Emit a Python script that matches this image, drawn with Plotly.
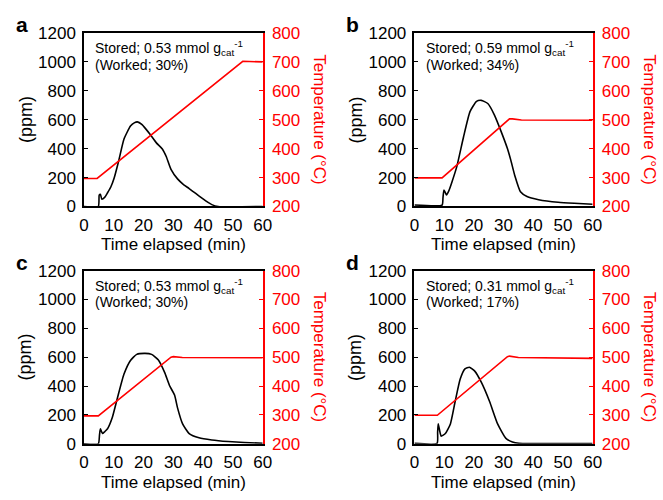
import plotly.graph_objects as go

# ---------------- data ----------------
panel_letters = ["a", "b", "c", "d"]
stored_labels = ["0.53", "0.59", "0.53", "0.31"]
worked_labels = ["30%", "34%", "30%", "17%"]

t_a = [0, 4.8, 5.1, 5.5, 6.0, 7.0, 7.9, 9.0, 10.1, 11.7, 13.4, 15.6, 17.0, 17.9, 19.4, 20.8, 22.1, 24.3, 26.3, 27.6, 29.2, 31.4, 33.5, 35.3, 37.5, 39.6, 41.5, 42.9, 45.0, 60]
ppm_a = [0, 0, 78, 85, 50, 65, 95, 135, 195, 320, 465, 556, 580, 585, 568, 535, 501, 440, 398, 346, 257, 191, 150, 124, 90, 58, 30, 13, 0, 0]
tT_a = [0, 4.4, 53.3, 60]
T_a = [297, 297, 702, 700]

t_b = [0, 9.3, 9.6, 9.9, 10.3, 10.8, 11.6, 12.6, 14.3, 16.5, 18.7, 20.9, 22.5, 24.7, 26.9, 29.1, 31.3, 32.4, 33.8, 35.7, 37.9, 41.8, 48.4, 53.8, 60]
ppm_b = [10, 10, 60, 113, 100, 80, 110, 168, 279, 479, 656, 727, 734, 712, 634, 523, 401, 324, 213, 102, 69, 47, 29, 22, 16]
tT_b = [0, 9.3, 32.0, 33.0, 36.0, 60]
T_b = [299, 299, 503, 503, 499, 498]

t_c = [0, 4.8, 5.2, 5.5, 6.2, 7.0, 7.9, 9.5, 11.2, 13.4, 15.6, 17.7, 20.5, 22.7, 24.9, 27.1, 28.7, 30.4, 31.4, 33.1, 35.3, 38.6, 42.9, 48.4, 53.8, 60]
ppm_c = [0, 0, 60, 104, 71, 85, 104, 182, 316, 482, 578, 620, 627, 620, 582, 493, 404, 338, 249, 138, 71, 42, 27, 16, 9, 4]
tT_c = [0, 4.8, 29.2, 30.0, 33.0, 60]
T_c = [297, 297, 500, 502, 499, 498]

t_d = [0, 7.6, 7.8, 8.0, 8.5, 9.0, 10.4, 12.1, 13.7, 15.4, 17.0, 18.5, 20.3, 22.5, 25.3, 28.0, 30.8, 33.0, 35.2, 60]
ppm_d = [3, 3, 80, 138, 90, 53, 71, 138, 293, 449, 520, 531, 504, 427, 293, 138, 38, 13, 4, 2]
tT_d = [0, 7.7, 31.3, 32.0, 35.0, 58, 60]
T_d = [299, 299, 502, 504, 499, 498, 496]

times = [t_a, t_b, t_c, t_d]
ppms = [ppm_a, ppm_b, ppm_c, ppm_d]
ttimes = [tT_a, tT_b, tT_c, tT_d]
temps = [T_a, T_b, T_c, T_d]

# ---------------- layout geometry (pixels) ----------------
W, H = 663, 500
FONT = "Liberation Sans, Arial, sans-serif"
px_boxes = [  # left, right, top, bottom
    (80.7, 263.3, 24.9, 205.3),
    (418.3, 600.3, 24.9, 205.3),
    (80.7, 263.3, 272.0, 452.0),
    (418.3, 600.3, 272.0, 452.0),
]

def px(x):
    return x / W

def py(y):
    return 1 - y / H

fig = go.Figure()
layout = dict(
    width=W, height=H, margin=dict(l=0, r=0, t=0, b=0),
    paper_bgcolor="white", plot_bgcolor="white", showlegend=False,
    font=dict(family=FONT, size=17, color="black"),
)
annotations = []

for i in range(4):
    n = i + 1
    xs = "" if n == 1 else str(n)
    xname, yname, y2name, xtname = "x" + xs, "y" + xs, "y" + str(n + 4), "x" + str(n + 4)
    l, r, t, b = px_boxes[i]
    xdom = [px(l), px(r)]
    ydom = [py(b), py(t)]

    fig.add_trace(go.Scatter(x=times[i], y=ppms[i], mode="lines", xaxis=xname, yaxis=yname,
                             line=dict(color="black", width=1.6, shape="spline", smoothing=0.5)))
    fig.add_trace(go.Scatter(x=ttimes[i], y=temps[i], mode="lines", xaxis=xname, yaxis=y2name,
                             line=dict(color="#ff0000", width=1.6)))

    layout["xaxis" + xs] = dict(domain=xdom, anchor=yname, range=[0, 60], dtick=10, tick0=0,
                                ticks="", showline=True, linecolor="black", linewidth=1.5,
                                mirror=True, showgrid=False, zeroline=False,
                                tickfont=dict(size=17, color="black"), ticklabelstandoff=2)
    layout["xaxis" + str(n + 4)] = dict(domain=xdom, anchor=yname, overlaying=xname, range=[0, 60],
                                        tickvals=[20, 40], ticks="inside", ticklen=4, tickwidth=1.3,
                                        tickcolor="black", showticklabels=False, showline=False,
                                        showgrid=False, zeroline=False)
    layout["yaxis" + xs] = dict(domain=ydom, anchor=xname, range=[0, 1200], dtick=200, tick0=0,
                                ticks="inside", ticklen=4, tickwidth=1.3, tickcolor="black",
                                showline=True, linecolor="black", linewidth=1.5,
                                showgrid=False, zeroline=False, ticklabelstandoff=3,
                                tickfont=dict(size=17, color="black"))
    layout["yaxis" + str(n + 4)] = dict(domain=ydom, anchor=xname, overlaying=yname, side="right",
                                        range=[200, 800], dtick=100, tick0=200,
                                        ticks="inside", ticklen=4, tickwidth=1.3, tickcolor="#ff0000",
                                        showline=True, linecolor="#ff0000", linewidth=1.5,
                                        showgrid=False, zeroline=False, ticklabelstandoff=4,
                                        tickfont=dict(size=17, color="#ff0000"))

    cx = (l + r) / 2
    cy = (t + b) / 2
    # axis titles
    annotations.append(dict(text="Time elapsed (min)", x=px(cx), y=py(b + 40), xref="paper", yref="paper",
                            xanchor="center", yanchor="middle", showarrow=False,
                            font=dict(size=17, color="black")))
    annotations.append(dict(text="(ppm)", x=px(l - 60), y=py(cy), xref="paper", yref="paper",
                            xanchor="center", yanchor="middle", showarrow=False, textangle=-90,
                            font=dict(size=18, color="black")))
    annotations.append(dict(text="Temperature (°C)", x=px(r + 58), y=py(cy), xref="paper", yref="paper",
                            xanchor="center", yanchor="middle", showarrow=False, textangle=90,
                            font=dict(size=17, color="#ff0000")))
    # panel letter
    annotations.append(dict(text="<b>" + panel_letters[i] + "</b>", x=px(l - 63), y=py(t - 9),
                            xref="paper", yref="paper", xanchor="center", yanchor="middle",
                            showarrow=False, font=dict(size=21, color="black")))
    # in-plot text
    annotations.append(dict(text="Stored; " + stored_labels[i] + " mmol g<sub>cat</sub><sup>-1</sup>",
                            x=px(l + 9.5), y=py(t + 16), xref="paper", yref="paper",
                            xanchor="left", yanchor="middle", showarrow=False,
                            font=dict(size=14, color="black")))
    annotations.append(dict(text="(Worked; " + worked_labels[i] + ")",
                            x=px(l + 9.5), y=py(t + 33), xref="paper", yref="paper",
                            xanchor="left", yanchor="middle", showarrow=False,
                            font=dict(size=14, color="black")))

layout["annotations"] = annotations
fig.update_layout(**layout)
fig.write_html("out.html")
